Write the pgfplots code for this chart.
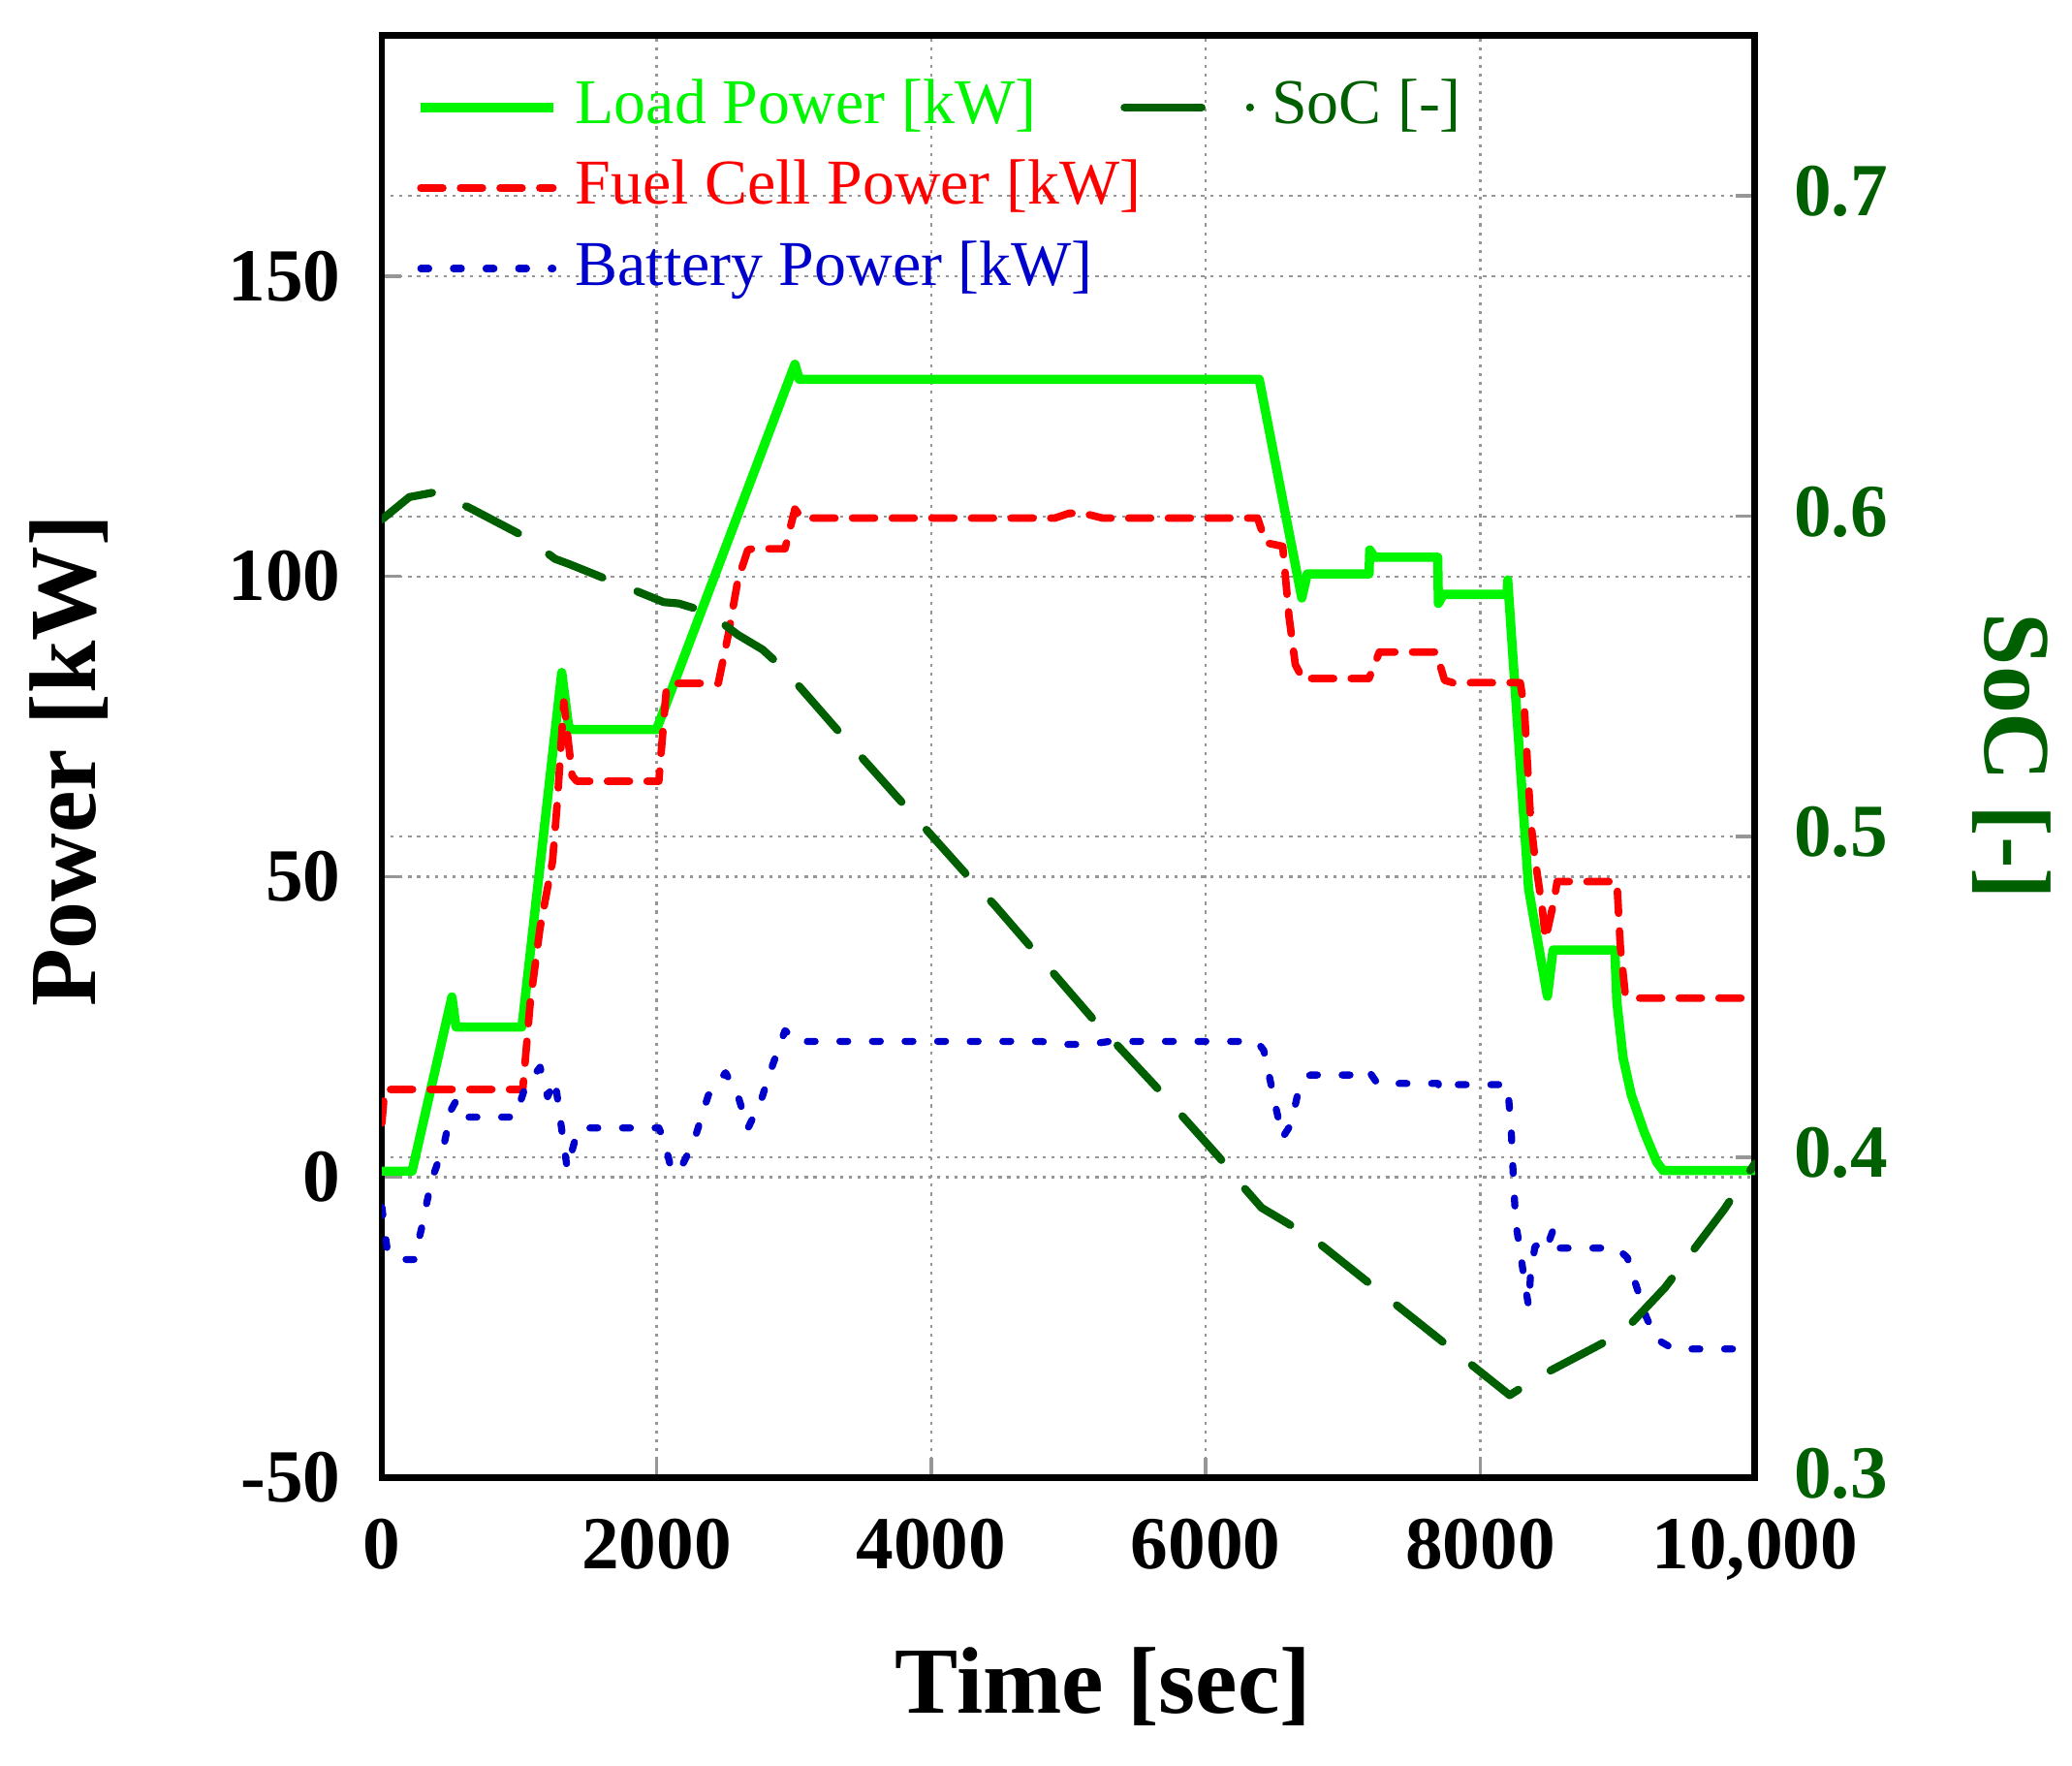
\documentclass[border=0pt]{standalone}
\usepackage{pgfplots}
\pgfplotsset{compat=1.18}
\usepackage{fontspec}
\setmainfont{Liberation Serif}
\definecolor{loadg}{RGB}{0,245,0}
\definecolor{fcred}{RGB}{255,0,0}
\definecolor{batblue}{RGB}{0,0,205}
\definecolor{socg}{RGB}{0,95,0}
\definecolor{gridg}{RGB}{150,150,150}
\pgfplotsset{
 common/.style={
  set layers,
  scale only axis, width=311.7pt, height=327.3pt,
  xmin=0, xmax=10000,
  scaled x ticks=false, scaled y ticks=false,
  axis line style={line width=1.5pt, black},
  tick style={gridg, line width=0.8pt},
  major tick length=4.4pt,
  tick align=inside,
  grid style={gridg, line width=0.5pt, dash pattern=on 0.7pt off 1.3pt},
  ticklabel style={font=\fontsize{17}{20}\selectfont\bfseries, inner sep=1pt},
  label style={font=\fontsize{21.5}{24}\selectfont\bfseries},
  legend cell align=left,
  legend image code/.code={\draw[##1] (0pt,0pt) -- (30pt,0pt);},
 },
 legsty/.style={legend style={anchor=north west, draw=none, fill=none,
   inner sep=0pt, outer sep=0pt, row sep=0.8pt,
   font=\fontsize{14.5}{17}\selectfont,
   nodes={inner sep=1.5pt, text height=11pt, text depth=3.5pt}}},
 socleg/.style={legend image code/.code={\draw[##1, dash pattern=on 17.5pt off 11pt on 0pt off 10pt] (0pt,0pt) -- (29pt,0pt);}},
}
\begin{document}
\begin{tikzpicture}
\begin{axis}[common, legsty, name=main,
  ymin=-50, ymax=190,
  ytick={-50,0,50,100,150}, yticklabels={-50,0,50,100,150},
  xtick={0,2000,4000,6000,8000,10000},
  xticklabels={0,2000,4000,6000,8000,{10,000}},
  xtick pos=bottom, ytick pos=left,
  xmajorgrids, ymajorgrids,
  yticklabel style={xshift=-8.2pt},
  xticklabel style={yshift=-8.2pt},
  xlabel={Time [sec]},
  xlabel style={at={(axis description cs:0.5255,-0.145)}, anchor=center},
  ylabel={Power [kW]},
  ylabel style={at={(axis description cs:-0.228,0.497)}, anchor=center},
  legend style={at={(axis description cs:0.025,0.977)}},
]
\addplot[loadg, line width=2.1pt, line join=round] coordinates {
(0,1) (220,1) (510,30) (540,25) (1020,25) (1310,84) (1360,75) (1390,74.5)
(2000,74.5) (3008,135.3) (3040,132.8) (6390,132.8) (6700,96.4) (6740,100.4)
(7190,100.4) (7195,104.4) (7230,103.2) (7690,103.2) (7695,95.5) (7730,97)
(8195,97) (8200,99.4) (8352,48) (8489,30.1) (8530,37.8) (8980,37.8)
(8995,29.1) (9040,19.9) (9100,13.7) (9194,7.5) (9286,2.5) (9332,1.1) (10000,1.1)
};
\addlegendentry{\hspace{2.5pt}\textcolor{loadg}{Load Power [kW]}}
\addplot[fcred, line width=1.7pt, line cap=round, line join=round, dash pattern=on 5pt off 4pt] coordinates {
(0,9) (20,14.6) (1026,14.6) (1081,29.2) (1152,41.5) (1243,52.6) (1278,62.5)
(1325,79.1) (1386,66.8) (1420,65.9) (2017,65.9) (2071,81) (2100,82.2)
(2450,82.2) (2522,90.2) (2593,99.4) (2665,104.4) (2700,104.6) (2936,104.6)
(3008,111.2) (3060,109.7) (4900,109.7) (5005,110.5) (5110,110.5) (5250,109.7)
(6378,109.7) (6438,105.6) (6561,105) (6607,93.3) (6653,85.3) (6713,82.7)
(6750,83) (7189,83) (7265,87.4) (7679,87.4) (7740,82.7) (7800,82.3)
(8291,82.3) (8321,78) (8367,59.3) (8398,53.1) (8450,45) (8475,39.6)
(8535,45.8) (8560,49.2) (8995,49.2) (9020,38.4) (9056,30.4) (9100,29.8) (10000,29.8)
};
\addlegendentry{\hspace{2.5pt}\textcolor{fcred}{Fuel Cell Power [kW]}}
\addplot[batblue, line width=1.6pt, line cap=round, line join=round, dash pattern=on 1.8pt off 5.6pt] coordinates {
(0,-5) (40,-12.3) (140,-13.7) (234,-13.7) (288,-8.6) (360,-0.6) (450,5.1)
(504,11.2) (540,12.7) (600,10) (972,10) (1044,15) (1152,18.3) (1207,13.4)
(1261,16.2) (1297,10) (1350,1.4) (1423,7.6) (1470,8.2) (2017,8.2) (2053,6.3)
(2107,1.4) (2161,0.8) (2269,5.7) (2377,13.6) (2503,17.4) (2593,13.6)
(2665,8.1) (2756,12.4) (2845,18.6) (2936,24.4) (3043,22.3) (3100,22.6)
(4800,22.6) (4970,22.1) (5150,22.1) (5300,22.6) (6373,22.6) (6423,21.1)
(6469,16.2) (6515,11.2) (6560,6.6) (6622,8.8) (6668,13.6) (6759,17)
(7173,17) (7190,17.6) (7250,15.6) (7693,15.6) (7700,14.7) (7740,15.4)
(8199,15.4) (8226,7.5) (8244,-1.7) (8260,-7.9) (8291,-12.3) (8321,-17.2)
(8352,-21.5) (8367,-15.9) (8398,-11.6) (8420,-11.2) (8475,-12.3) (8535,-8.5)
(8582,-11.8) (8995,-11.8) (9071,-13.4) (9132,-17.8) (9209,-23.3) (9286,-27)
(9408,-28.6) (10000,-28.6)
};
\addlegendentry{\hspace{2.5pt}\textcolor{batblue}{Battery Power [kW]}}
\end{axis}
\begin{axis}[common, legsty, socleg,
  ymin=0.3, ymax=0.75,
  axis y line*=right, axis x line=none,
  ytick={0.3,0.4,0.5,0.6,0.7}, yticklabels={0.3,0.4,0.5,0.6,0.7},
  ymajorgrids,
  yticklabel style={text=socg, xshift=7.7pt, yshift=1pt},
  ylabel={SoC [-]},
  ylabel style={text=socg, at={(axis description cs:1.187,0.5)}, anchor=center, rotate=180},
  legend style={at={(axis description cs:0.538,0.977)}},
]
\addplot[socg, line width=1.8pt, line cap=round, line join=round, dash pattern=on 13.3pt off 8.5pt] coordinates {
(0,0.599) (200,0.606) (397,0.6076) (649,0.6024) (1063,0.5931) (1261,0.5867)
(1369,0.585) (1693,0.5794) (1909,0.5757) (2053,0.5732) (2161,0.5728)
(2377,0.570) (2593,0.563) (2773,0.5584) (2936,0.552) (3385,0.53)
(4304,0.486) (4466,0.4785) (5187,0.4427) (5642,0.4218) (6101,0.3998)
(6254,0.3917) (6407,0.3842) (6591,0.3795) (6806,0.3738) (8214,0.3257)
(8428,0.3315) (8841,0.3408) (9040,0.3454) (9346,0.3593) (9775,0.3836) (10000,0.398)
};
\addlegendentry{\hspace{2pt}\textcolor{socg}{SoC [-]}}
\end{axis}
\path (main.south west) ++(-86.7pt,-65.4pt) coordinate (bl);
\path (main.north east) ++(72pt,8.1pt) coordinate (tr);
\pgfresetboundingbox
\path (bl) rectangle (tr);
\end{tikzpicture}
\end{document}
